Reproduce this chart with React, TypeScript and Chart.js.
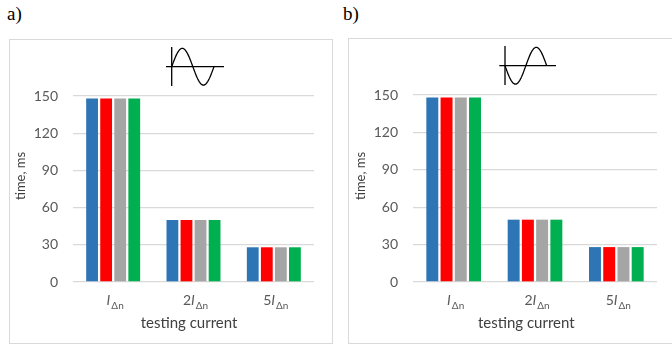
import React, { useEffect, useRef } from "react";
import { Chart, registerables } from "chart.js";

Chart.register(...registerables);

// ---- data ----
const categories = ["IΔn", "2IΔn", "5IΔn"];
const tickPrefix = ["", "2", "5"];
const tickSymbol = ["I", "I", "I"];
const tickSubscript = ["Δn", "Δn", "Δn"];
const seriesNames = ["Series 1", "Series 2", "Series 3", "Series 4"];
const seriesColors = ["#2e75b6", "#ff0000", "#a5a5a5", "#00b050"];

const panelA_s1 = [148, 50, 28];
const panelA_s2 = [148, 50, 28];
const panelA_s3 = [148, 50, 28];
const panelA_s4 = [148, 50, 28];

const panelB_s1 = [148, 50, 28];
const panelB_s2 = [148, 50, 28];
const panelB_s3 = [148, 50, 28];
const panelB_s4 = [148, 50, 28];

const yMin = 0;
const yMax = 150;
const yStep = 30;
const yTitle = "time, ms";
const xTitle = "testing current";

const FONT = "Lato, 'Liberation Sans', Arial, sans-serif";

type PanelProps = {
  left: number;
  top: number;
  width: number;
  height: number;
  series: number[][];
  phase: 1 | -1;
  padRight: number;
  padTop: number;
  yAxisWidth: number;
  xAxisHeight: number;
  icon: { axisX: number; hx0: number; hx1: number; sx1: number; y: number; vy0: number; vy1: number; amp: number };
  xTitleOffset: number;
  yTitleX: number;
  yTitleDy: number;
};

function Panel(p: PanelProps) {
  const ref = useRef<HTMLCanvasElement | null>(null);
  useEffect(() => {
    const canvas = ref.current!;
    const overlay = {
      id: "overlay",
      afterDraw(chart: any) {
        const ctx = chart.ctx as CanvasRenderingContext2D;
        const area = chart.chartArea;
        const xs = chart.scales.x;
        ctx.save();
        // x tick labels with italic I and subscript
        for (let i = 0; i < categories.length; i++) {
          const cx = xs.getPixelForValue(i) + 2;
          const base = area.bottom + 23;
          ctx.font = `14px ${FONT}`;
          const w1 = ctx.measureText(tickPrefix[i]).width;
          ctx.font = `italic 14px ${FONT}`;
          const w2 = ctx.measureText(tickSymbol[i]).width;
          ctx.font = `10px ${FONT}`;
          const w3 = ctx.measureText(tickSubscript[i]).width;
          let x = cx - (w1 + w2 + 1 + w3) / 2;
          ctx.fillStyle = "#595959";
          ctx.textAlign = "left";
          ctx.textBaseline = "alphabetic";
          ctx.font = `14px ${FONT}`;
          ctx.fillText(tickPrefix[i], x, base);
          x += w1;
          ctx.font = `italic 14px ${FONT}`;
          ctx.fillText(tickSymbol[i], x, base);
          x += w2 + 1;
          ctx.font = `10px ${FONT}`;
          ctx.fillText(tickSubscript[i], x, base + 4);
        }
        // x title
        ctx.fillStyle = "#404040";
        ctx.font = `15px ${FONT}`;
        ctx.textAlign = "center";
        ctx.textBaseline = "middle";
        ctx.fillText(xTitle, (area.left + area.right) / 2 + p.xTitleOffset, area.bottom + 41);
        // y title
        ctx.save();
        ctx.translate(p.yTitleX, area.top + p.yTitleDy);
        ctx.rotate(-Math.PI / 2);
        ctx.font = `13px ${FONT}`;
        ctx.fillText(yTitle, 0, 0);
        ctx.restore();
        // sine icon
        const ic = p.icon;
        ctx.strokeStyle = "#000";
        ctx.lineWidth = 1.3;
        ctx.beginPath();
        ctx.moveTo(ic.axisX, ic.vy0);
        ctx.lineTo(ic.axisX, ic.vy1);
        ctx.moveTo(ic.hx0, ic.y);
        ctx.lineTo(ic.hx1, ic.y);
        ctx.stroke();
        ctx.beginPath();
        const n = 60;
        for (let k = 0; k <= n; k++) {
          const t = (k / n) * Math.PI * 2;
          const x = ic.axisX + (k / n) * (ic.sx1 - ic.axisX);
          const y = ic.y - p.phase * ic.amp * Math.sin(t);
          if (k === 0) ctx.moveTo(x, y);
          else ctx.lineTo(x, y);
        }
        ctx.stroke();
        ctx.restore();
      },
    };
    const chart = new Chart(canvas, {
      type: "bar",
      data: {
        labels: categories,
        datasets: p.series.map((vals, i) => ({
          label: seriesNames[i],
          data: vals,
          backgroundColor: seriesColors[i],
          borderWidth: 0,
          categoryPercentage: 0.7,
          barPercentage: 0.84,
        })),
      },
      options: {
        responsive: false,
        animation: false,
        layout: { padding: { top: p.padTop, right: p.padRight, left: 0, bottom: 0 } },
        plugins: { legend: { display: false }, tooltip: { enabled: false } },
        scales: {
          x: {
            grid: { display: false },
            border: { display: false },
            ticks: { display: false },
            afterFit: (s: any) => {
              s.height = p.xAxisHeight;
            },
          },
          y: {
            min: yMin,
            max: yMax,
            ticks: { stepSize: yStep, padding: 15, color: "#595959", font: { family: FONT, size: 14 } },
            grid: { color: "#d9d9d9", drawTicks: false, lineWidth: 1.3 },
            border: { display: false },
            afterFit: (s: any) => {
              s.width = p.yAxisWidth;
            },
          },
        },
      } as any,
      plugins: [overlay],
    });
    return () => chart.destroy();
  }, []);
  return (
    <div
      style={{
        position: "absolute",
        left: p.left,
        top: p.top,
        width: p.width,
        height: p.height,
        border: "1px solid #d9d9d9",
        background: "#fff",
      }}
    >
      <canvas ref={ref} width={p.width} height={p.height} style={{ display: "block" }} />
    </div>
  );
}

export default function App() {
  const lbl: React.CSSProperties = {
    position: "absolute",
    top: 4,
    fontFamily: "'Liberation Serif', 'Times New Roman', serif",
    fontSize: 19,
    lineHeight: "19px",
    color: "#000",
  };
  return (
    <div style={{ position: "absolute", left: 0, top: 0, width: 672, height: 345, overflow: "hidden", background: "#fff" }}>
      <div style={{ ...lbl, left: 7 }}>a)</div>
      <div style={{ ...lbl, left: 343 }}>b)</div>
      <Panel
        left={9}
        top={39}
        width={322}
        height={303}
        series={[panelA_s1, panelA_s2, panelA_s3, panelA_s4]}
        phase={1}
        padRight={18}
        padTop={56}
        yAxisWidth={63}
        xAxisHeight={61}
        icon={{ axisX: 161.7, hx0: 156, hx1: 214, sx1: 204, y: 26.7, vy0: 7, vy1: 46, amp: 18.4 }}
        xTitleOffset={-4.5}
        yTitleX={11}
        yTitleDy={80}
      />
      <Panel
        left={348}
        top={38}
        width={330}
        height={304}
        series={[panelB_s1, panelB_s2, panelB_s3, panelB_s4]}
        phase={-1}
        padRight={22}
        padTop={56}
        yAxisWidth={64}
        xAxisHeight={61}
        icon={{ axisX: 156, hx0: 150.3, hx1: 207, sx1: 197.7, y: 26.7, vy0: 7, vy1: 46, amp: 18.4 }}
        xTitleOffset={-8.7}
        yTitleX={11.7}
        yTitleDy={81}
      />
    </div>
  );
}
